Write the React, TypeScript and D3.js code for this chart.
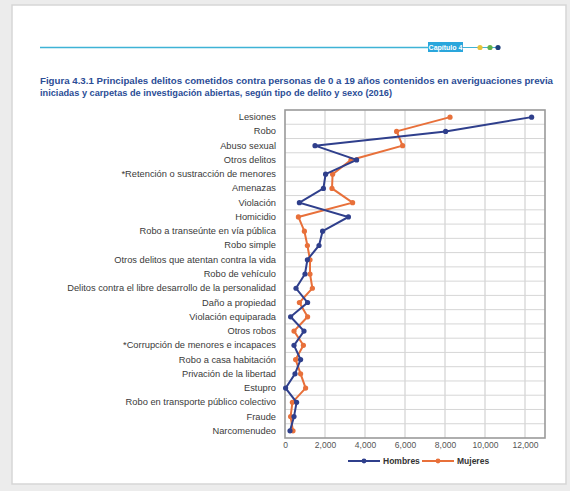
import React, { useEffect, useRef } from 'react';
import * as d3 from 'd3';

// Categories, top to bottom
const categories = [
  'Lesiones',
  'Robo',
  'Abuso sexual',
  'Otros delitos',
  '*Retención o sustracción de menores',
  'Amenazas',
  'Violación',
  'Homicidio',
  'Robo a transeúnte en vía pública',
  'Robo simple',
  'Otros delitos que atentan contra la vida',
  'Robo de vehículo',
  'Delitos contra el libre desarrollo de la personalidad',
  'Daño a propiedad',
  'Violación equiparada',
  'Otros robos',
  '*Corrupción de menores e incapaces',
  'Robo a casa habitación',
  'Privación de la libertad',
  'Estupro',
  'Robo en transporte público colectivo',
  'Fraude',
  'Narcomenudeo',
];

const hombres = [12330, 8030, 1500, 3580, 2030, 1920, 720, 3170, 1880, 1700, 1120, 1000, 550, 1130, 280, 950, 450, 780, 500, 30, 580, 450, 250];
const mujeres = [8250, 5580, 5880, 3300, 2380, 2350, 3380, 670, 970, 1120, 1250, 1250, 1370, 720, 1130, 450, 920, 530, 780, 1030, 370, 280, 400];

const xTicks = [0, 2000, 4000, 6000, 8000, 10000, 12000];
const seriesNames = ['Hombres', 'Mujeres'];

const titleLines = [
  'Figura 4.3.1 Principales delitos cometidos contra personas de 0 a 19 años contenidos en averiguaciones previa',
  'iniciadas y carpetas de investigación abiertas, según tipo de delito y sexo (2016)',
];

const W = 570;
const H = 491;
const BLUE = '#2f3f8c';
const ORANGE = '#e8703a';
const FONT = 'Liberation Sans Narrow, Liberation Sans, Arial, sans-serif';

const App = () => {
  const ref = useRef<SVGSVGElement | null>(null);

  useEffect(() => {
    if (!ref.current) return;
    const svg = d3.select(ref.current);
    svg.selectAll('*').remove();

    // page background
    svg.append('rect').attr('width', W).attr('height', H).attr('fill', '#ececec');
    svg.append('rect').attr('x', 12).attr('y', 5).attr('width', 554).attr('height', 479)
      .attr('fill', '#ffffff').attr('stroke', '#d6d6d6').attr('stroke-width', 1.5);

    // header rule
    svg.append('line').attr('x1', 40).attr('x2', 428).attr('y1', 47.5).attr('y2', 47.5)
      .attr('stroke', '#3fb3d6').attr('stroke-width', 1.5);
    svg.append('rect').attr('x', 428).attr('y', 42).attr('width', 35).attr('height', 10).attr('fill', '#2aa6dc');
    svg.append('text').attr('x', 445.5).attr('y', 50).attr('text-anchor', 'middle')
      .style('font-family', FONT).style('font-size', '7px').style('font-weight', 'bold')
      .attr('fill', '#ffffff').text('Capítulo 4');
    svg.append('line').attr('x1', 463).attr('x2', 498).attr('y1', 47.5).attr('y2', 47.5)
      .attr('stroke', '#3fb3d6').attr('stroke-width', 1.2);
    [['#e8c23a', 480], ['#62b04a', 490], ['#1f3f7a', 498]].forEach(([c, x]) => {
      svg.append('circle').attr('cx', x as number).attr('cy', 47.5).attr('r', 2.6).attr('fill', c as string);
    });

    // title
    titleLines.forEach((t, i) => {
      svg.append('text')
        .attr('x', 40).attr('y', 84 + i * 12)
        .attr('textLength', i === 0 ? 513 : 352).attr('lengthAdjust', 'spacingAndGlyphs')
        .style('font-family', FONT)
        .style('font-size', '9px').style('font-weight', 'bold')
        .attr('fill', '#2b4d96').text(t);
    });

    // chart area
    const margin = { left: 285, right: 25, top: 110, bottom: 53 };
    const width = W - margin.left - margin.right;
    const height = H - margin.top - margin.bottom;
    const g = svg.append('g').attr('transform', `translate(${margin.left},${margin.top})`);

    const x = d3.scaleLinear().domain([0, 13000]).range([0, width]);
    const y = d3.scaleBand().domain(categories).range([0, height]);
    const yc = (c: string) => (y(c) as number) + y.bandwidth() / 2;

    // vertical grid
    g.append('g').selectAll('line').data(xTicks.slice(1)).enter().append('line')
      .attr('x1', d => x(d)).attr('x2', d => x(d)).attr('y1', 0).attr('y2', height)
      .attr('stroke', '#c9c9c9').attr('stroke-width', 1);
    // horizontal grid between categories
    g.append('g').selectAll('line').data(categories.slice(1)).enter().append('line')
      .attr('x1', 0).attr('x2', width).attr('y1', d => y(d) as number).attr('y2', d => y(d) as number)
      .attr('stroke', '#d6d6d6').attr('stroke-width', 1);

    g.append('rect').attr('width', width).attr('height', height).attr('fill', 'none')
      .attr('stroke', '#9a9a9a').attr('stroke-width', 1.6);

    // x axis labels
    g.append('g').attr('transform', `translate(0,${height})`)
      .call(d3.axisBottom(x).tickValues(xTicks).tickSize(0).tickPadding(4).tickFormat(d3.format(',')))
      .call(a => a.select('.domain').remove())
      .selectAll('text')
      .style('font-family', FONT)
      .style('font-size', '8.5px').attr('fill', '#555');

    // category labels
    g.append('g').attr('transform', 'translate(-9,0)')
      .call(d3.axisLeft(y).tickSize(0).tickPadding(0))
      .call(a => a.select('.domain').remove())
      .selectAll('text')
      .style('font-family', FONT)
      .style('font-size', '9.3px').attr('fill', '#3a3a3a');

    const line = d3.line<number>()
      .x(d => x(d))
      .y((d, i) => yc(categories[i]));

    const series = [
      { name: seriesNames[0], values: hombres, color: BLUE },
      { name: seriesNames[1], values: mujeres, color: ORANGE },
    ];

    // draw Mujeres first so Hombres sits on top
    [series[1], series[0]].forEach(s => {
      g.append('path').datum(s.values).attr('fill', 'none')
        .attr('stroke', s.color).attr('stroke-width', 2).attr('d', line);
      g.append('g').selectAll('circle').data(s.values).enter().append('circle')
        .attr('cx', d => x(d)).attr('cy', (d, i) => yc(categories[i]))
        .attr('r', 2.6).attr('fill', s.color);
    });

    // legend
    const lg = svg.append('g').attr('transform', 'translate(0,461)');
    const legendPos = [348, 422];
    series.forEach((s, i) => {
      const lx = legendPos[i];
      lg.append('line').attr('x1', lx).attr('x2', lx + 32).attr('y1', 0).attr('y2', 0)
        .attr('stroke', s.color).attr('stroke-width', 2);
      lg.append('circle').attr('cx', lx + 16).attr('cy', 0).attr('r', 2.4).attr('fill', s.color);
      lg.append('text').attr('x', lx + 35).attr('y', 3)
        .style('font-family', FONT)
        .style('font-size', '8.5px').style('font-weight', 'bold')
        .attr('fill', '#333').text(s.name);
    });
  }, []);

  return (
    <svg
      ref={ref}
      width={W}
      height={H}
      style={{ position: 'absolute', left: 0, top: 0, display: 'block' }}
    />
  );
};

export default App;
